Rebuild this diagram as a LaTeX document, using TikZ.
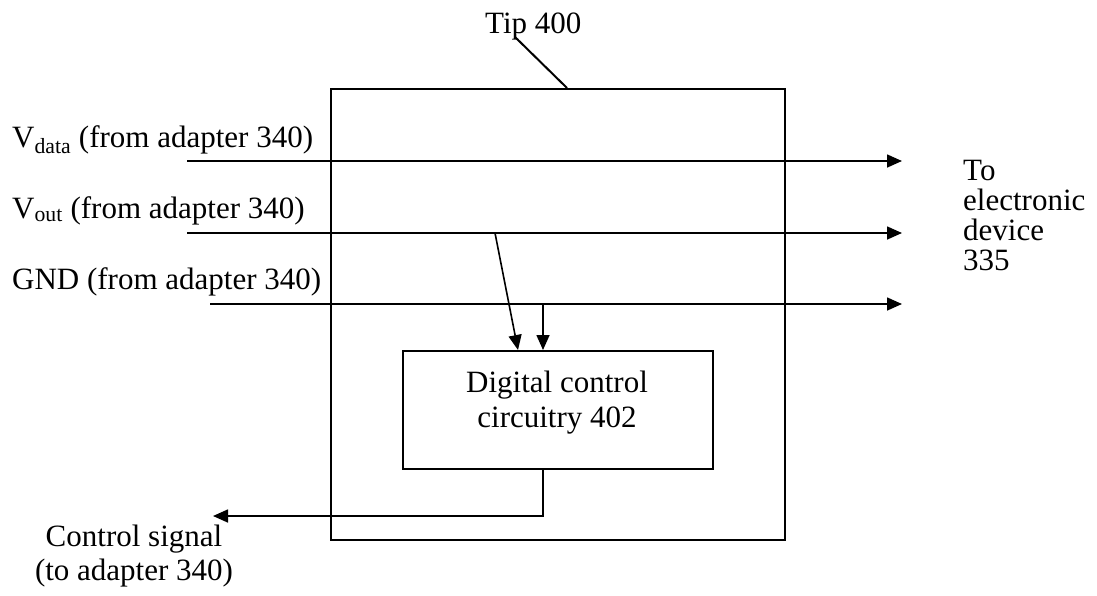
\documentclass[tikz,border=0pt]{standalone}
\usepackage{fontspec}
\setmainfont{Liberation Serif}
\usetikzlibrary{arrows.meta}
\begin{document}
\begin{tikzpicture}[x=1pt,y=-1pt,
  lbl/.style={inner sep=0pt, font=\fontsize{31}{30}\selectfont},
  wire/.style={line width=1.6pt},
  arr/.style={wire, -{Triangle[length=15pt,width=13pt]}},
  boxst/.style={draw, line width=2.3pt, inner sep=0pt, anchor=north west}]
\useasboundingbox (0,0) rectangle (1097,595);
% boxes
\node[boxst, minimum width=454pt, minimum height=451pt] (tip) at (330,88) {};
\node[boxst, line width=2pt, minimum width=310pt, minimum height=118pt] (dcc) at (402,350) {};
% coordinates
\coordinate (vdin) at (187,161);
\coordinate (vdout) at (902,161);
\coordinate (voin) at (187,233);
\coordinate (voout) at (902,233);
\coordinate (gin) at (210,304);
\coordinate (gout) at (902,304);
\coordinate (votap) at (495,233);
\coordinate (gtap) at (543,304);
\coordinate (in1) at (518,350);
\coordinate (cend) at (213,516);
\coordinate (lead) at (515,37);
\coordinate (leadend) at (567,88);
% wires
\draw[arr] (vdin) -- (vdout);
\draw[arr] (voin) -- (voout);
\draw[arr] (gin) -- (gout);
\draw[arr] (votap) -- (in1);
\draw[arr] (gtap) -- (gtap |- dcc.north);
\draw[arr] (gtap |- dcc.south) -- (gtap |- cend) -- (cend);
\draw[wire, line width=2pt] (lead) -- (leadend);
% labels
\node[lbl, anchor=base west] (vdl) at (12,147) {V\textsubscript{data} (from adapter 340)};
\node[lbl, anchor=base west] (vol) at (12,218) {V\textsubscript{out} (from adapter 340)};
\node[lbl, anchor=base west] (gl) at (12,289) {GND (from adapter 340)};
\node[lbl, anchor=base west] (tipl) at (485,33) {Tip 400};
\node[lbl, anchor=north west, align=left] (dev) at (963,160) {To\\electronic\\device\\335};
\node[lbl, anchor=north, align=center, font=\fontsize{31}{35}\selectfont] (dcct) at (557,371) {Digital control\\circuitry 402};
\node[lbl, anchor=north, align=center, font=\fontsize{31}{34}\selectfont] (ctl) at (134,525) {Control signal\\(to adapter 340)};
\end{tikzpicture}
\end{document}
